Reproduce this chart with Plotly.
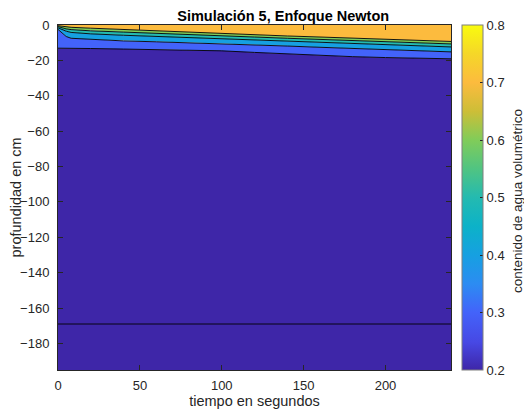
import plotly.graph_objects as go
from plotly.colors import sample_colorscale

# Time samples (s) and the depth (cm) of each contour boundary at those times
tiempo = [0, 2, 5, 8, 20, 40, 60, 80, 100, 120, 140, 160, 180, 200, 220, 240]
prof_07 = [-0.4, -0.7, -1.0, -1.3, -1.8, -2.6, -3.4, -4.2, -4.9, -5.5, -6.2, -6.8, -7.4, -8.0, -8.6, -9.3]
prof_06 = [-0.9, -1.5, -2.2, -2.6, -3.3, -4.0, -4.8, -5.5, -6.2, -6.8, -7.5, -8.1, -8.8, -9.5, -10.1, -10.7]
prof_05 = [-1.6, -2.5, -3.5, -4.2, -5.0, -5.8, -6.5, -7.2, -7.8, -8.5, -9.1, -9.8, -10.5, -11.2, -11.8, -12.4]
prof_04 = [-2.5, -4.0, -6.5, -7.5, -8.2, -9.0, -9.5, -10.0, -10.5, -11.2, -11.9, -12.6, -13.3, -14.0, -14.6, -15.2]
prof_03 = [-13.1, -13.1, -13.2, -13.2, -13.3, -13.6, -13.9, -14.2, -14.6, -15.5, -16.4, -17.2, -17.9, -18.4, -18.8, -19.1]
prof_02 = [-169.0] * len(tiempo)

superficie = 0.0
fondo = -195.0
x_ticks = [0, 50, 100, 150, 200]
y_ticks = [0, -20, -40, -60, -80, -100, -120, -140, -160, -180]
cbar_ticks = [0.2, 0.3, 0.4, 0.5, 0.6, 0.7, 0.8]
cmin, cmax = 0.2, 0.8

# parula-like colormap
parula = [
    [0.000, "rgb(62,38,168)"],
    [0.080, "rgb(71,72,228)"],
    [0.167, "rgb(67,99,250)"],
    [0.250, "rgb(44,140,242)"],
    [0.333, "rgb(22,160,225)"],
    [0.417, "rgb(12,178,200)"],
    [0.500, "rgb(36,186,176)"],
    [0.583, "rgb(80,196,130)"],
    [0.667, "rgb(129,204,89)"],
    [0.750, "rgb(205,190,55)"],
    [0.833, "rgb(252,187,62)"],
    [0.917, "rgb(245,215,40)"],
    [1.000, "rgb(249,251,14)"],
]


def color_for(level):
    return sample_colorscale(parula, [(level - cmin) / (cmax - cmin)])[0]


top_line = [superficie] * len(tiempo)
bottom_line = [fondo] * len(tiempo)
bounds = [top_line, prof_07, prof_06, prof_05, prof_04, prof_03, bottom_line]
band_levels = [0.7, 0.6, 0.5, 0.4, 0.3, 0.2]

FONT = "Liberation Sans, Arial"
INK = "#262626"

fig = go.Figure()

# filled bands between consecutive contour boundaries
for upper, lower, lev in zip(bounds[:-1], bounds[1:], band_levels):
    fig.add_trace(go.Scatter(
        x=tiempo + tiempo[::-1],
        y=upper + lower[::-1],
        fill="toself",
        fillcolor=color_for(lev),
        line=dict(width=0),
        mode="lines",
        hoverinfo="skip",
        showlegend=False,
    ))

# contour lines
for prof in [prof_07, prof_06, prof_05, prof_04, prof_03, prof_02]:
    fig.add_trace(go.Scatter(
        x=tiempo, y=prof, mode="lines",
        line=dict(color="black", width=0.9),
        hoverinfo="skip", showlegend=False,
    ))

# colorbar carrier
fig.add_trace(go.Scatter(
    x=[tiempo[0]], y=[fondo], mode="markers",
    marker=dict(
        size=0.1, opacity=0, color=[cmin], colorscale=parula, cmin=cmin, cmax=cmax,
        showscale=True,
        colorbar=dict(
            x=1.0285, xanchor="left", xpad=0, ypad=0,
            y=0.5, yanchor="middle", len=1.0, lenmode="fraction",
            thickness=21, thicknessmode="pixels",
            outlinecolor="#7f7f7f", outlinewidth=1,
            tickvals=cbar_ticks, ticktext=[f"{v:.1f}" for v in cbar_ticks],
            ticks="inside", ticklen=3, tickcolor=INK,
            tickfont=dict(family=FONT, size=13, color=INK),
        ),
    ),
    hoverinfo="skip", showlegend=False,
))

# colorbar label
fig.add_annotation(
    text="contenido de agua volumétrico", textangle=-90,
    xref="paper", yref="paper", x=1.1705, y=0.49,
    xanchor="center", yanchor="middle", showarrow=False,
    font=dict(family=FONT, size=13.5, color=INK),
)

# y-axis label
fig.add_annotation(
    text="profundidad en cm", textangle=-90,
    xref="paper", yref="paper", x=-0.107, y=0.5,
    xanchor="center", yanchor="middle", showarrow=False,
    font=dict(family=FONT, size=14.5, color=INK),
)

axis_common = dict(
    showgrid=False, zeroline=False, showline=True, linecolor=INK, linewidth=1,
    mirror="allticks", ticks="inside", ticklen=5, tickcolor=INK, automargin=False,
    tickfont=dict(family=FONT, size=13, color=INK),
)

fig.update_layout(
    width=524, height=415,
    margin=dict(l=58, r=73, t=25, b=45, pad=0, autoexpand=False),
    paper_bgcolor="white", plot_bgcolor="white",
    title=dict(text="<b>Simulación 5, Enfoque Newton</b>", x=0.573, xref="paper",
               xanchor="center", y=1, yref="paper", yanchor="bottom", pad=dict(b=4),
               font=dict(family=FONT, size=14.5, color="black")),
    xaxis=dict(range=[0, 240], tickvals=x_ticks, ticklabelstandoff=3,
               title=dict(text="tiempo en segundos", standoff=4,
                          font=dict(family=FONT, size=14.5, color=INK)),
               **axis_common),
    yaxis=dict(range=[fondo, 0], tickvals=y_ticks, ticklabelstandoff=5,
               **axis_common),
)

fig.write_html("out.html")
